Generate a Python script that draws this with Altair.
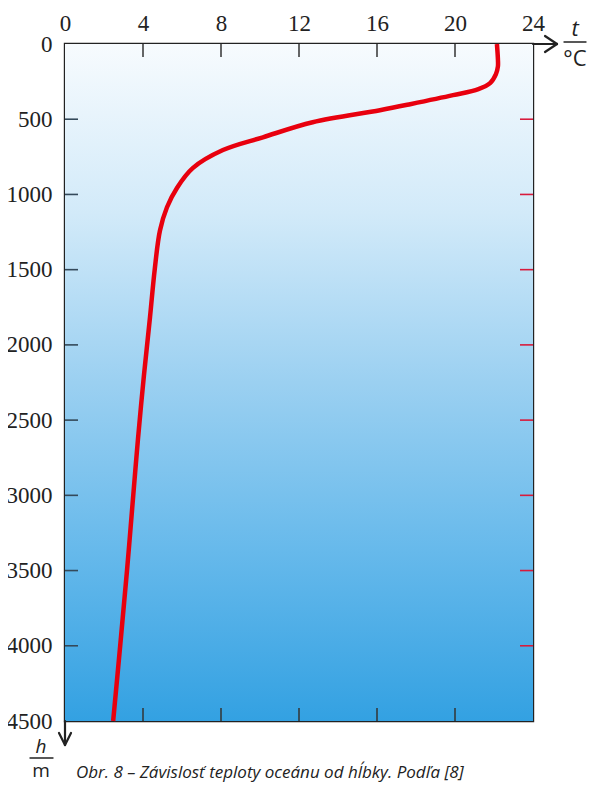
import altair as alt
import pandas as pd

# --- data ---
depth = [0, 100, 150, 200, 260, 300, 340, 400, 440, 520, 620, 705, 825, 955,
         1085, 1240, 1500, 1815, 2200, 2630, 3000, 3500, 4000, 4500]
temp = [22.15, 22.2, 22.2, 22.1, 21.8, 21.2, 19.9, 17.7, 16.15, 12.7, 10.15, 8.1,
        6.55, 5.75, 5.23, 4.87, 4.6, 4.36, 4.05, 3.74, 3.5, 3.18, 2.83, 2.47]
x_labels = [0, 4, 8, 12, 16, 20, 24]
y_labels = [0, 500, 1000, 1500, 2000, 2500, 3000, 3500, 4000, 4500]
x_inner_ticks = [4, 8, 12, 16, 20]
y_inner_ticks = [500, 1000, 1500, 2000, 2500, 3000, 3500, 4000]
caption = "Obr. 8 – Závislosť teploty oceánu od hĺbky. Podľa [8]"

W, H = 468, 677
NUM_FONT = "Liberation Sans Narrow"
TXT_FONT = "Open Sans"
DARK = "#222222"

xs = alt.Scale(domain=[0, 24], nice=False, zero=False)
ys = alt.Scale(domain=[0, 4500], nice=False, zero=False, reverse=True)
xaxis = alt.Axis(
    orient="top", values=x_labels, format="d", labelFont=NUM_FONT, labelFontSize=23,
    labelColor=DARK, labelPadding=14, labelBaseline="alphabetic",
    domain=False, ticks=False, grid=False, title=None, labelFlush=False)
yaxis = alt.Axis(
    orient="left", values=y_labels, format="d", labelFont=NUM_FONT, labelFontSize=23,
    labelColor=DARK, labelPadding=13, domain=False, ticks=False,
    grid=False, title=None, labelFlush=False)

one = pd.DataFrame({"k": [0]})
curve = pd.DataFrame({"d": depth, "t": temp})
ytk = pd.DataFrame({"d": y_inner_ticks})
xtk = pd.DataFrame({"t": x_inner_ticks})

bg = alt.Chart(one).mark_rect(
    fill=alt.Gradient(
        gradient="linear",
        stops=[
            alt.GradientStop(color="#f7fbfe", offset=0),
            alt.GradientStop(color="#d2eaf9", offset=0.25),
            alt.GradientStop(color="#9bd0f1", offset=0.5),
            alt.GradientStop(color="#66b9eb", offset=0.75),
            alt.GradientStop(color="#33a1e2", offset=1),
        ],
        x1=0, x2=0, y1=0, y2=1,
    )
).encode(x=alt.value(0), x2=alt.value(W), y=alt.value(0), y2=alt.value(H))

line = alt.Chart(curve).mark_line(
    color="#e8000e", strokeWidth=4.5, interpolate="catmull-rom", strokeCap="butt"
).encode(
    x=alt.X("t:Q", scale=xs, axis=xaxis),
    y=alt.Y("d:Q", scale=ys, axis=yaxis),
    order=alt.Order("d:Q"),
)

left_ticks = alt.Chart(ytk).mark_rule(color="#34495a", strokeWidth=1.6).encode(
    y=alt.Y("d:Q", scale=ys, axis=yaxis), x=alt.value(0), x2=alt.value(13))
right_ticks = alt.Chart(ytk).mark_rule(color="#d81b3c", strokeWidth=1.6).encode(
    y=alt.Y("d:Q", scale=ys, axis=yaxis), x=alt.value(W - 13), x2=alt.value(W))
top_ticks = alt.Chart(xtk).mark_rule(color="#333333", strokeWidth=1.5).encode(
    x=alt.X("t:Q", scale=xs, axis=xaxis), y=alt.value(0), y2=alt.value(13))
bottom_ticks = alt.Chart(xtk).mark_rule(color="#333333", strokeWidth=1.5).encode(
    x=alt.X("t:Q", scale=xs, axis=xaxis), y=alt.value(H - 13), y2=alt.value(H))


def seg(x1, y1, x2, y2, w=2.2):
    return alt.Chart(one).mark_rule(color=DARK, strokeWidth=w, strokeCap="round").encode(
        x=alt.value(x1), y=alt.value(y1), x2=alt.value(x2), y2=alt.value(y2))


arrows = [
    seg(W, 0, W + 24, 0),
    seg(W + 12, -8, W + 24, 0),
    seg(W + 12, 8, W + 24, 0),
    seg(0, H, 0, H + 24),
    seg(-6, H + 12, 0, H + 24),
    seg(6, H + 12, 0, H + 24),
]


def txt(s, x, y, size=22, italic=False, align="center", font=TXT_FONT):
    kw = dict(text=s, font=font, fontSize=size, color=DARK, align=align,
              baseline="alphabetic")
    if italic:
        kw["fontStyle"] = "italic"
    return alt.Chart(one).mark_text(**kw).encode(x=alt.value(x), y=alt.value(y))


texts = [
    txt("t", 510, -8, 22, italic=True),
    seg(499, -2, 521, -2, 1.4),
    txt("°C", 510, 22, 22),
    txt("h", -24, 709, 19, italic=True),
    seg(-35, 714, -12, 714, 1.4),
    txt("m", -24, 733, 19),
    txt(caption, 11, 734, 17, italic=True, align="left"),
]

chart = alt.layer(
    bg, left_ticks, right_ticks, top_ticks, bottom_ticks, line, *arrows, *texts
).properties(
    width=W, height=H,
    autosize=alt.AutoSizeParams(type="none"),
    padding={"left": 57, "top": 36, "right": 54, "bottom": 62},
).configure_view(stroke=DARK, strokeWidth=2.4)

chart.save("out.html", embed_options={"renderer": "svg", "actions": False})
